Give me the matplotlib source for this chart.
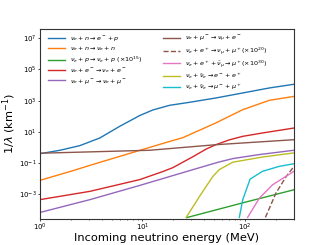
import numpy as np
import matplotlib
matplotlib.use("Agg")
import matplotlib.pyplot as plt

# Energies (MeV) and inverse mean free paths (1/km)
E_blue = [1.0, 1.57, 2.45, 3.84, 6.0, 9.4, 12.6, 18.4, 28.8, 52, 95, 173, 300]
Y_blue = [0.39, 0.65, 1.29, 4.0, 22.4, 110, 250, 500, 780, 1480, 3100, 6500, 11200]

E_orange = [1.0, 2.1, 3.07, 8.7, 18.4, 24.8, 52, 95, 173, 300]
Y_orange = [0.0076, 0.032, 0.07, 0.55, 2.4, 4.2, 37, 263, 1050, 1860]

E_green = [27.0, 100, 300]
Y_green = [3.1e-5, 3.0e-4, 1.9e-3]

E_red = [1.0, 3.07, 9.4, 15.8, 19.8, 31, 42, 52, 70, 95, 150, 300]
Y_red = [4.4e-4, 1.5e-3, 8.5e-3, 0.028, 0.05, 0.25, 0.79, 1.48, 3.0, 5.1, 8.5, 17.4]

E_purple = [1.0, 3.07, 9.4, 31, 55, 76, 140, 300]
Y_purple = [6.6e-5, 4.4e-4, 3.6e-3, 0.037, 0.112, 0.19, 0.35, 0.65]

E_brown = [1.0, 11.7, 52, 300]
Y_brown = [0.42, 0.65, 1.48, 3.1]

E_brown_d = [158, 200, 252, 300]
Y_brown_d = [3.2e-5, 1.15e-3, 0.0135, 0.06]

E_pink = [106, 138, 186, 300]
Y_pink = [3.2e-5, 5.5e-4, 4.0e-3, 0.029]

E_olive = [26.7, 36, 48.5, 56, 76, 148, 300]
Y_olive = [3.2e-5, 7.1e-4, 0.0135, 0.037, 0.112, 0.24, 0.44]

E_cyan = [88, 95, 112, 148, 215, 300]
Y_cyan = [3.2e-5, 4.4e-4, 9.1e-3, 0.029, 0.06, 0.089]

labels = [
    r"$\nu_e + n \rightarrow e^- + p$",
    r"$\nu_e + n \rightarrow \nu_e + n$",
    r"$\nu_e + p \rightarrow \nu_e + p\ (\times 10^{15})$",
    r"$\nu_e + e^- \rightarrow \nu_e + e^-$",
    r"$\nu_e + \mu^- \rightarrow \nu_e + \mu^-$",
    r"$\nu_e + \mu^- \rightarrow \nu_\mu + e^-$",
    r"$\nu_e + e^+ \rightarrow \nu_\mu + \mu^+ (\times 10^{20})$",
    r"$\nu_e + e^+ + \bar{\nu}_\mu \rightarrow \mu^+ (\times 10^{30})$",
    r"$\nu_e + \bar{\nu}_e \rightarrow e^- + e^+$",
    r"$\nu_e + \bar{\nu}_e \rightarrow \mu^- + \mu^+$",
]

series = [
    (E_blue, Y_blue, "C0", "-"),
    (E_orange, Y_orange, "C1", "-"),
    (E_green, Y_green, "C2", "-"),
    (E_red, Y_red, "C3", "-"),
    (E_purple, Y_purple, "C4", "-"),
    (E_brown, Y_brown, "C5", "-"),
    (E_brown_d, Y_brown_d, "C5", "--"),
    (E_pink, Y_pink, "C6", "-"),
    (E_olive, Y_olive, "C8", "-"),
    (E_cyan, Y_cyan, "C9", "-"),
]

fig = plt.figure(figsize=(3.27, 2.45), dpi=100)
ax = fig.add_axes([0.122, 0.108, 0.777, 0.774])

for (x, y, c, ls), lab in zip(series, labels):
    ax.plot(x, y, color=c, ls=ls, lw=1.0, label=lab)

ax.set_xscale("log")
ax.set_yscale("log")
ax.set_xlim(1, 300)
ax.set_ylim(2.7e-5, 4e7)
ax.tick_params(labelsize=5, width=0.5, length=1.6, pad=0.8)
ax.tick_params(which="minor", width=0.4, length=1.0)
for s in ax.spines.values():
    s.set_linewidth(0.8)
    s.set_color("#333333")
ax.set_xlabel("Incoming neutrino energy (MeV)", fontsize=8.2, labelpad=0)
ax.set_ylabel(r"$1/\lambda$ (km$^{-1}$)", fontsize=8.2, labelpad=0.5)

ax.legend(ncol=2, fontsize=4.6, frameon=False, loc="upper left",
          bbox_to_anchor=(0.012, 1.0), handlelength=2.6, labelspacing=0.2,
          columnspacing=3.3, borderaxespad=0.4, handletextpad=0.8)

fig.savefig("out.png", dpi=100)
